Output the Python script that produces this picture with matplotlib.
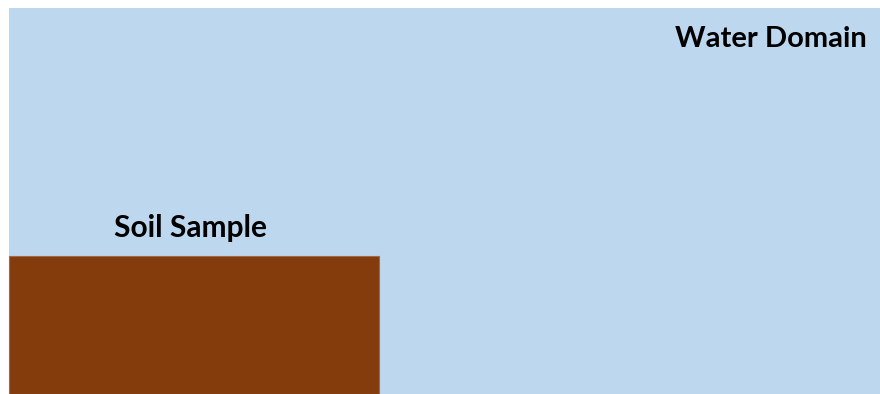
import matplotlib
matplotlib.use("Agg")
import matplotlib.pyplot as plt
from matplotlib.patches import Rectangle

# domain layout (image units, y downwards)
width, height = 880, 394
labels = ["Water Domain", "Soil Sample"]
water_box = [9, 8, 880, 394]     # x0, y0, x1, y1
soil_box = [9, 256, 379, 394]
water_color = "#BDD7EE"
soil_color = "#843C0C"

fig = plt.figure(figsize=(8.8, 3.94), dpi=100)
ax = fig.add_axes([0, 0, 1, 1])
ax.set_xlim(0, width)
ax.set_ylim(height, 0)
ax.axis("off")

ax.add_patch(Rectangle((water_box[0], water_box[1]), water_box[2] - water_box[0],
                       water_box[3] - water_box[1], facecolor=water_color, edgecolor="none"))
ax.add_patch(Rectangle((soil_box[0], soil_box[1]), soil_box[2] - soil_box[0],
                       soil_box[3] - soil_box[1], facecolor=soil_color,
                       edgecolor="#A0694A", linewidth=0.8))

ax.text(867, 47, labels[0], ha="right", va="baseline", fontsize=21,
        fontweight="bold", family="Lato", color="black")
ax.text(191, 237, labels[1], ha="center", va="baseline", fontsize=21.5,
        fontweight="bold", family="Lato", color="black")

fig.savefig("out.png", dpi=100)
